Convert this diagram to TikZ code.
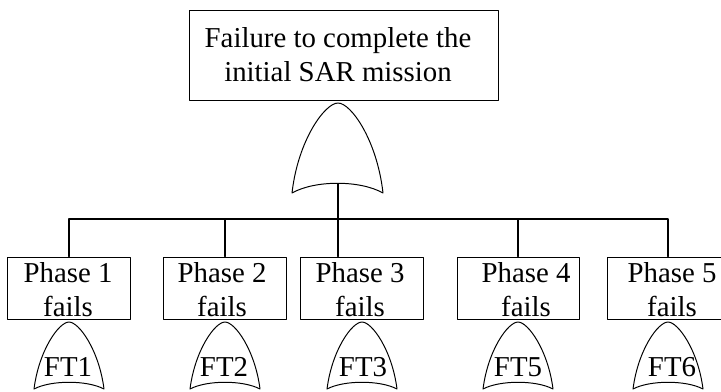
\documentclass[tikz,border=0pt]{standalone}
\usepackage{fontspec}
\setmainfont{Liberation Serif}
\begin{document}
\begin{tikzpicture}[x=0.025cm, y=-0.025cm, line join=round, line cap=round,
		font=\fontsize{20.5}{24}\selectfont,
		box/.style={draw, line width=0.7pt, inner sep=0pt, minimum width=3.05cm, minimum height=1.55cm},
		txt/.style={align=center, inner sep=0pt, anchor=base},
		bus/.style={line width=0.9pt}]
	\useasboundingbox (0,0) rectangle (721,391);
	\clip (0,0) rectangle (721,391);
	% top event
	\node[box, minimum width=7.7cm, minimum height=2.25cm] (top) at (344,55) {};
	\node[txt] (toptxt) at (338,81) {Failure to complete the\\initial SAR mission};
	\draw[line width=0.7pt] (292,193) .. controls (298,140) and (325,103) .. (338,103)
		.. controls (351,103) and (377,140) .. (383,193)
		.. controls (360,180) and (315,180) .. (292,193);
	\coordinate (g) at (338,184);
	\coordinate (bus) at (338,219);
	% phases
	\node[box] (b1) at (69,288) {};
	\node[box] (b2) at (225,288) {};
	\node[box] (b3) at (362,288) {};
	\node[box] (b4) at (518,288) {};
	\node[box] (b5) at (668,288) {};
	\foreach \x/\i in {68/1,222/2,360/3,526/4,672/5}{
		\node[txt] (t\i) at (\x,316) {Phase \i\\fails};}
	\draw[bus] (g) -- (bus);
	\draw[bus] (b1.north) -- (b1.north|-bus) -| (b5.north);
	\draw[bus] (b2.north) -- (b2.north|-bus);
	\draw[bus] (bus) -- (bus|-b3.north);
	\draw[bus] (b4.north) -- (b4.north|-bus);
	% transfer gates
	\foreach \x/\lx/\t in {69/68/FT1,225/224/FT2,362/363/FT3,518/518/FT5,668/672/FT6}{
		\draw[line width=0.7pt] (\x-35,389) .. controls (\x-30,350) and (\x-10,322) .. (\x,322)
			.. controls (\x+10,322) and (\x+30,350) .. (\x+35,389)
			.. controls (\x+18,380) and (\x-18,380) .. (\x-35,389);
		\node[txt] (\t) at (\lx,376) {\t};}
\end{tikzpicture}
\end{document}
